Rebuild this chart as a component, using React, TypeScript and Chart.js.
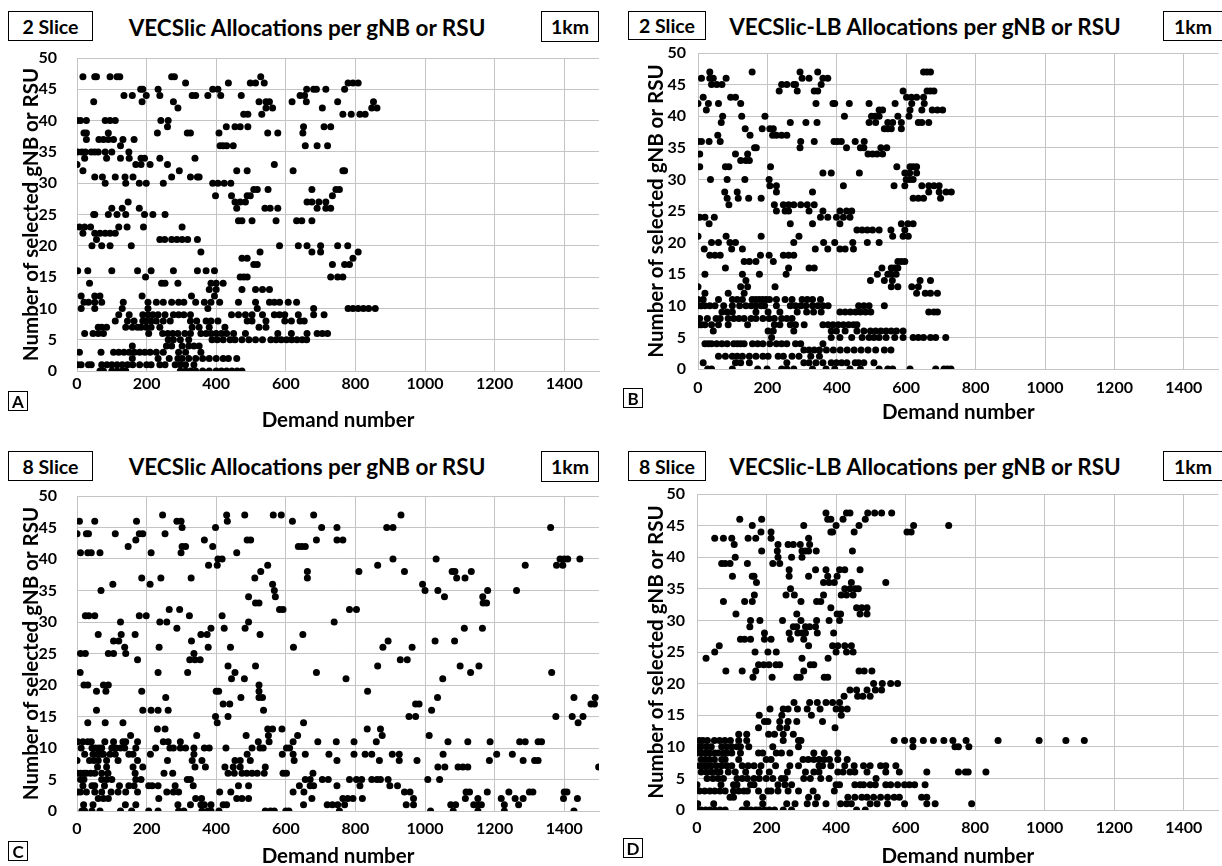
import React, { useEffect, useRef } from 'react';
import { Chart, registerables } from 'chart.js';

Chart.register(...registerables);

type Row = [number, number[]];

const xTickValues = [0, 200, 400, 600, 800, 1000, 1200, 1400];
const yTickValues = [0, 5, 10, 15, 20, 25, 30, 35, 40, 45, 50];
const xTitle = 'Demand number';
const yTitle = 'Number of selected gNB or RSU';

// Panel A: 2 Slice, VECSlic
const rowsA: Row[] = [
  [47, [17, 51, 56, 95, 115, 123, 272, 280, 528]],
  [46, [312, 435, 498, 513, 538, 779, 793, 808]],
  [45, [183, 189, 233, 390, 405, 660, 680, 688, 715, 769]],
  [44, [135, 159, 199, 238, 331, 341, 376, 413, 472, 641, 654]],
  [43, [48, 187, 277, 523, 543, 553, 618, 659, 749, 852]],
  [42, [290, 543, 562, 705, 847, 862]],
  [41, [479, 491, 531, 764, 788, 813, 828]],
  [40, [0, 10, 27, 81, 95, 110, 241, 262]],
  [39, [260, 429, 454, 469, 491, 651, 710, 729]],
  [38, [20, 27, 90, 231, 317, 326, 408, 548, 577, 649]],
  [37, [27, 63, 76, 90, 105, 132, 164]],
  [36, [125, 411, 420, 430, 449, 656, 690, 720]],
  [35, [2, 14, 24, 41, 51, 61, 81, 100, 149]],
  [34, [22, 85, 125, 150, 184, 194, 238, 339]],
  [33, [0, 169, 184, 210, 260, 567]],
  [32, [17, 294, 459, 489, 621, 764, 769]],
  [31, [51, 73, 110, 138, 161, 272, 326, 346, 351]],
  [30, [81, 140, 179, 199, 248, 390, 405, 423, 442]],
  [29, [508, 518, 549, 675, 744, 754]],
  [28, [398, 444, 489, 498, 734]],
  [27, [147, 454, 469, 484, 661, 675, 695, 715]],
  [26, [100, 130, 179, 459, 540, 555, 577, 690, 715, 729]],
  [25, [48, 51, 90, 115, 140, 194, 218, 253]],
  [24, [464, 474, 503, 572, 631, 646, 675]],
  [23, [7, 22, 39, 120, 144, 191, 302]],
  [22, [17, 51, 66, 81, 95, 110]],
  [21, [56, 238, 252, 272, 287, 302, 318, 346]],
  [20, [43, 71, 95, 156, 582, 636, 661, 700, 749, 778]],
  [19, [356, 526, 675, 700, 808]],
  [18, [474, 489, 793]],
  [17, [508, 518, 734, 769, 783]],
  [16, [2, 31, 100, 174, 213, 277, 346, 371, 395]],
  [15, [197, 469, 479, 489, 729, 749, 764]],
  [14, [36, 243, 253, 290, 385, 400, 420]],
  [13, [380, 400, 474, 513, 533, 553]],
  [12, [12, 51, 66, 187, 329, 395]],
  [11, [20, 33, 51, 71, 133, 204, 228, 248, 272, 292, 307, 341, 366, 385, 410, 464, 513, 553, 567, 582, 607, 631]],
  [10, [12, 51, 130, 204, 376, 518, 680, 779, 793, 808, 823, 838, 857]],
  [9, [120, 150, 189, 204, 218, 233, 253, 277, 292, 307, 326, 444, 464, 484, 503, 533, 567, 582, 597, 636, 680, 710]],
  [8, [110, 145, 164, 189, 199, 213, 228, 248, 268, 326, 344, 371, 385, 405, 489, 503, 543, 597, 616, 641, 653]],
  [7, [61, 71, 85, 140, 159, 174, 184, 199, 213, 238, 331, 351, 380, 425, 523, 543]],
  [6, [22, 46, 61, 76, 206, 246, 261, 275, 290, 310, 326, 356, 371, 385, 400, 415, 430, 450, 484, 577, 616, 661, 690, 705, 720]],
  [5, [262, 277, 297, 321, 388, 403, 420, 440, 454, 474, 494, 513, 533, 557, 572, 587, 602, 617, 632, 647, 660]],
  [4, [159, 257, 272, 302, 321, 336, 351]],
  [3, [7, 69, 105, 120, 135, 150, 165, 180, 195, 210, 228, 248, 292, 312, 356]],
  [2, [159, 233, 265, 290, 302, 321, 341, 361, 380, 400, 420, 435, 459]],
  [1, [2, 12, 33, 41, 71, 86, 100, 115, 130, 145, 160, 180, 200, 213, 238, 253, 282, 297, 312, 336]],
  [0, [66, 76, 100, 115, 130, 140, 297, 312, 327, 341, 361, 380, 400, 415, 430, 445, 460, 474]],
];

// Panel B: 2 Slice, VECSlic-LB
const rowsB: Row[] = [
  [47, [34, 156, 294, 345, 650, 660, 670]],
  [46, [10, 34, 44, 81, 300, 320, 360, 374]],
  [45, [39, 54, 69, 241, 256, 276, 281, 355]],
  [44, [234, 286, 335, 345, 591, 660, 670, 680]],
  [43, [15, 94, 108, 601, 615, 630, 650]],
  [42, [0, 30, 59, 123, 340, 389, 394, 436, 493, 568, 616, 652]],
  [41, [24, 522, 532, 611, 645, 675, 690, 705]],
  [40, [71, 126, 193, 422, 500, 510, 522, 576, 608]],
  [39, [67, 266, 311, 343, 493, 512, 547, 561, 586, 635, 645, 665]],
  [38, [136, 185, 207, 217, 537, 547, 557, 586]],
  [37, [57, 150, 215, 226, 241, 256]],
  [36, [0, 10, 32, 64, 296, 335, 392, 402, 413, 453, 479]],
  [35, [163, 168, 294, 428, 468, 478, 527, 544]],
  [34, [5, 108, 143, 490, 503, 516, 532]],
  [33, [123, 138, 148]],
  [32, [5, 79, 89, 209, 573, 611, 620, 630]],
  [31, [360, 384, 465, 596, 610, 630]],
  [30, [36, 84, 135, 205, 600, 610, 620]],
  [29, [207, 226, 419, 565, 596, 645, 665, 680, 695]],
  [28, [77, 113, 226, 330, 665, 695, 715, 730]],
  [27, [84, 116, 146, 182, 620, 635, 650, 699]],
  [26, [89, 220, 246, 261, 276, 296, 315, 335]],
  [25, [226, 251, 261, 320, 360, 409, 428, 443]],
  [24, [5, 20, 47, 353, 374, 399, 419, 438]],
  [23, [32, 266, 330, 409, 586, 605, 620]],
  [22, [458, 473, 488, 503, 522, 556, 596]],
  [21, [0, 81, 182, 291, 561, 591, 606]],
  [20, [39, 59, 92, 108, 276, 362, 394, 446, 488, 522]],
  [19, [18, 97, 128, 338, 374, 409, 424, 448]],
  [18, [34, 49, 64, 180, 205, 246, 261, 276]],
  [17, [133, 148, 167, 217, 576, 586, 596]],
  [16, [79, 261, 320, 335, 530, 557, 566, 576]],
  [15, [20, 128, 177, 254, 517, 547, 557, 571]],
  [14, [138, 497, 537, 560, 640, 670]],
  [13, [0, 123, 143, 222, 557, 576, 616, 635]],
  [12, [20, 87, 133, 630, 655, 670, 690]],
  [11, [0, 15, 59, 99, 113, 128, 156, 166, 176, 186, 196, 206, 226, 251, 271, 300, 315, 330, 353]],
  [10, [0, 10, 20, 34, 49, 74, 99, 120, 138, 153, 167, 182, 192, 226, 266, 281, 296, 311, 330, 345, 360, 375, 463, 478, 493, 537]],
  [9, [69, 84, 99, 167, 202, 236, 286, 313, 333, 355, 409, 424, 439, 454, 468, 483, 498, 665, 680, 690]],
  [8, [5, 27, 52, 64, 87, 103, 118, 133, 153, 167, 187, 205, 220, 241, 256, 271]],
  [7, [0, 10, 20, 39, 59, 87, 143, 220, 236, 266, 281, 306, 360, 375, 389, 404, 419, 434, 448, 458]],
  [6, [44, 202, 217, 276, 384, 399, 424, 458, 478, 497, 512, 527, 542, 557, 572, 591]],
  [5, [212, 384, 409, 443, 473, 493, 507, 522, 542, 567, 591, 620, 635, 650, 670, 685, 714]],
  [4, [20, 30, 39, 54, 69, 84, 103, 113, 123, 133, 157, 172, 187, 207, 226, 241, 256, 281, 296, 360]],
  [3, [305, 320, 335, 350, 370, 390, 410, 430, 450, 470, 490, 512, 537, 556]],
  [2, [59, 79, 99, 113, 128, 148, 167, 187, 202, 231, 246, 271, 291, 325, 350]],
  [1, [15, 108, 123, 148, 256, 305, 320, 340, 360, 384, 399, 414, 429, 453, 463, 478, 507]],
  [0, [28, 39, 99, 172, 199, 241, 256, 276, 330, 369, 394, 438, 468, 522, 547, 561, 611, 685, 709, 719, 729]],
];

// Panel C: 8 Slice, VECSlic
const rowsC: Row[] = [
  [47, [246, 430, 482, 564, 587, 680, 931]],
  [46, [7, 51, 171, 287, 299, 432, 619]],
  [45, [302, 398, 703, 747, 890, 908, 1361]],
  [44, [0, 27, 33, 110, 179, 189, 253]],
  [43, [169, 366, 489, 499, 688, 747, 764]],
  [42, [147, 302, 312, 390, 636, 646, 656]],
  [41, [10, 31, 41, 66, 213, 299, 459]],
  [40, [405, 417, 908, 1032, 1388, 1400, 1410, 1445]],
  [39, [378, 403, 548, 864, 1288, 1378, 1396]],
  [38, [528, 662, 810, 941, 1078, 1086, 1133]],
  [37, [186, 241, 328, 511, 662, 1091, 1115]],
  [36, [103, 210, 562, 993]],
  [35, [69, 567, 1000, 1037, 1180, 1263]],
  [34, [493, 570, 1056, 1166]],
  [33, [513, 523, 1167, 1177]],
  [32, [265, 295, 582, 592, 783, 803]],
  [31, [24, 34, 51, 179, 199, 323, 417]],
  [30, [125, 238, 258, 493, 739]],
  [29, [287, 385, 423, 483, 1113, 1165]],
  [28, [61, 127, 167, 356, 374, 526, 649]],
  [27, [105, 120, 329, 894, 1029, 1085]],
  [26, [137, 236, 377, 441, 622, 879, 963]],
  [25, [10, 24, 90, 105, 140, 336]],
  [24, [174, 324, 339, 354, 929, 949]],
  [23, [434, 513, 864, 1101, 1155]],
  [22, [9, 233, 318, 454, 688, 1131, 1364]],
  [21, [444, 481, 773, 1051]],
  [20, [20, 31, 76, 90, 523]],
  [19, [56, 83, 186, 400, 407, 523, 835]],
  [18, [255, 471, 523, 533, 1036, 1428, 1489]],
  [17, [420, 439, 973, 983, 1477, 1487]],
  [16, [56, 189, 213, 233, 262, 536, 1019]],
  [15, [398, 434, 954, 973, 1376, 1423, 1454]],
  [14, [31, 81, 132, 403, 651, 1440]],
  [13, [231, 253, 548, 562, 589, 834, 872]],
  [12, [154, 344, 486, 550, 634, 877, 1012]],
  [11, [2, 17, 31, 41, 80, 105, 132, 140, 174, 248, 262, 297, 521, 552, 621, 692, 745, 796, 860, 1066, 1123, 1187, 1272, 1288, 1325, 1335]],
  [10, [12, 43, 53, 63, 71, 100, 112, 125, 137, 169, 226, 267, 277, 297, 312, 336, 366, 380, 428, 503, 526, 535, 602, 611]],
  [9, [22, 46, 59, 69, 76, 95, 110, 149, 161, 211, 336, 489, 590, 621, 656, 724, 796, 828, 847, 906, 926, 1052, 1206, 1251]],
  [8, [0, 36, 49, 61, 85, 118, 174, 260, 331, 359, 454, 469, 498, 624, 747, 869, 926, 977, 1185, 1282, 1315, 1325]],
  [7, [59, 85, 161, 189, 339, 369, 425, 449, 469, 541, 1037, 1057, 1095, 1109, 1123, 1499]],
  [6, [0, 10, 20, 27, 39, 51, 71, 89, 167, 250, 275, 434, 452, 474, 488, 503, 518, 538, 592, 602, 678]],
  [5, [10, 20, 71, 85, 100, 169, 184, 317, 326, 656, 670, 705, 722, 783, 803, 818, 847, 862, 872, 894, 1008, 1042]],
  [4, [17, 43, 51, 79, 122, 149, 164, 206, 216, 233, 282, 334, 464, 493, 639, 670, 680, 747, 813, 899, 921]],
  [3, [2, 10, 27, 51, 71, 98, 118, 140, 174, 258, 277, 292, 410, 442, 621, 652, 941, 957, 1118, 1128, 1179, 1241, 1300, 1310, 1400, 1408]],
  [2, [61, 76, 90, 235, 341, 358, 459, 474, 493, 675, 764, 778, 793, 820, 967, 1116, 1152, 1219, 1259, 1282, 1398, 1438]],
  [1, [19, 46, 139, 169, 290, 326, 356, 366, 385, 420, 430, 651, 719, 734, 749, 769, 946, 967, 1074, 1088, 1140, 1152, 1162, 1228, 1269]],
  [0, [14, 22, 43, 66, 125, 157, 206, 233, 292, 307, 359, 376, 385, 408, 541, 556, 567, 600, 609, 754, 1016, 1081, 1152, 1228, 1428]],
];

// Panel D: 8 Slice, VECSlic-LB
const rowsD: Row[] = [
  [47, [371, 430, 440, 491, 511, 531, 560]],
  [46, [123, 186, 376, 385, 420, 484]],
  [45, [159, 307, 400, 466, 623, 724]],
  [44, [184, 213, 385, 390, 452, 604, 616]],
  [43, [51, 76, 100, 147, 169, 213, 321]],
  [42, [107, 233, 262, 277, 297, 324]],
  [41, [186, 231, 302, 312, 321, 343, 447]],
  [40, [110, 233, 272, 302]],
  [39, [71, 81, 95, 145, 218, 238]],
  [38, [265, 341, 371, 410, 425, 469]],
  [37, [102, 159, 164, 265, 321, 376, 403]],
  [36, [171, 364, 380, 395, 444, 543]],
  [35, [269, 425, 440, 455, 464]],
  [34, [165, 256, 280, 364, 415, 430, 449]],
  [33, [76, 137, 159, 299, 344, 356]],
  [32, [385, 459, 474, 489]],
  [31, [112, 287, 403, 413, 469, 489]],
  [30, [154, 181, 246, 299, 344, 380, 410]],
  [29, [152, 277, 287, 312, 324, 341]],
  [28, [194, 265, 290, 302, 312, 346, 393]],
  [27, [125, 137, 154, 194, 213, 269, 307]],
  [26, [64, 321, 390, 405, 425, 444]],
  [25, [51, 167, 204, 228, 400, 430, 449]],
  [24, [26, 302, 377]],
  [23, [177, 192, 207, 227, 238, 326, 336]],
  [22, [83, 130, 169, 307, 466, 481, 503]],
  [21, [161, 216, 287, 297, 366, 376]],
  [20, [508, 533, 557, 577]],
  [19, [440, 459, 489, 513, 531]],
  [18, [423, 462, 477, 498]],
  [17, [279, 324, 346, 371, 390, 410]],
  [16, [210, 248, 262, 289, 317, 354, 400, 415, 432]],
  [15, [179, 244, 329, 415]],
  [14, [194, 204, 238, 262, 287, 361]],
  [13, [177, 238, 258, 397]],
  [12, [120, 143, 206, 223, 248, 277]],
  [11, [7, 17, 30, 50, 65, 80, 96, 120, 143, 248, 292, 299, 567, 597, 621, 651, 680, 710, 736, 774, 866, 984, 1061, 1114]],
  [10, [0, 12, 27, 41, 71, 86, 100, 115, 125, 149, 218, 292, 621, 742, 752, 782]],
  [9, [0, 12, 25, 36, 51, 61, 76, 86, 100, 125, 177, 189, 228, 243, 267, 336, 366, 405]],
  [8, [12, 24, 36, 50, 71, 81, 120, 199, 213, 305, 320, 336, 351, 366, 381, 405, 432]],
  [7, [7, 19, 30, 41, 56, 71, 86, 100, 130, 147, 164, 184, 226, 267, 292, 351, 361, 385, 425, 452, 479, 498, 528, 543, 572]],
  [6, [12, 27, 41, 56, 66, 90, 110, 140, 179, 208, 260, 312, 336, 351, 405, 420, 440, 454, 489, 543, 582, 661, 752, 772, 780, 831]],
  [5, [29, 46, 61, 76, 115, 130, 145, 164, 179, 199, 218, 243, 253, 307, 326, 356, 380, 515]],
  [4, [0, 69, 105, 115, 154, 164, 233, 253, 272, 400, 410, 454, 469, 479, 498, 513, 543, 557, 577, 597, 611, 626, 656]],
  [3, [7, 22, 37, 51, 66, 81, 105, 120, 135, 145, 177, 204, 213, 233, 262, 292, 334, 395]],
  [2, [95, 105, 189, 321, 346, 434, 454, 474, 489, 508, 528, 548, 567, 582, 646, 661]],
  [1, [2, 48, 143, 189, 258, 282, 317, 341, 371, 413, 430, 444, 498, 518, 548, 597, 661, 685, 790]],
  [0, [0, 12, 25, 37, 51, 66, 81, 130, 142, 155, 169, 179, 194, 208, 223, 248, 272, 459, 484]],
];

const FONT = "Lato, 'Liberation Sans', Arial, sans-serif";
const GRID = '#c4c4c4';

type Rect = { x: number; y: number; w: number; h: number };
type Plot = { l: number; r: number; t: number; b: number };
type PanelSpec = {
  rows: Row[];
  canvas: Rect;
  plot: Plot;
  xTickPad: number;
  yTickPad: number;
  xTitlePad: number;
  yTitlePad: number;
};

const toPoints = (rows: Row[]) => rows.flatMap(([y, xs]) => xs.map((x) => ({ x, y })));

function ScatterPanel({ spec }: { spec: PanelSpec }) {
  const ref = useRef<HTMLCanvasElement>(null);
  useEffect(() => {
    const c = spec.canvas;
    const p = spec.plot;
    const chart = new Chart(ref.current as HTMLCanvasElement, {
      type: 'scatter',
      data: {
        datasets: [
          {
            data: toPoints(spec.rows),
            pointRadius: 3.5,
            pointHoverRadius: 3.5,
            pointBackgroundColor: '#000',
            pointBorderWidth: 0,
          },
        ],
      },
      options: {
        responsive: false,
        maintainAspectRatio: false,
        animation: false,
        events: [],
        layout: { padding: { top: p.t - c.y, right: c.x + c.w - p.r, left: 0, bottom: 0 } },
        plugins: { legend: { display: false }, tooltip: { enabled: false } },
        scales: {
          x: {
            type: 'linear',
            min: 0,
            max: 1500,
            afterBuildTicks: (s: any) => {
              s.ticks = xTickValues.map((v) => ({ value: v }));
            },
            afterFit: (s: any) => {
              s.height = c.y + c.h - p.b;
              s.paddingLeft = 0;
              s.paddingRight = 0;
            },
            ticks: {
              color: '#000',
              font: { family: FONT, size: 16, weight: 'bold' },
              padding: spec.xTickPad,
              maxRotation: 0,
              autoSkip: false,
              callback: (v: any) => String(v),
            },
            grid: { color: GRID, lineWidth: 1, drawTicks: false },
            border: { color: GRID, width: 1 },
            title: {
              display: true,
              text: xTitle,
              color: '#000',
              font: { family: FONT, size: 20.5, weight: 'bold' },
              padding: { top: 0, bottom: spec.xTitlePad },
            },
          },
          y: {
            type: 'linear',
            min: 0,
            max: 50,
            afterBuildTicks: (s: any) => {
              s.ticks = yTickValues.map((v) => ({ value: v }));
            },
            afterFit: (s: any) => {
              s.width = p.l - c.x;
              s.paddingTop = 0;
              s.paddingBottom = 0;
            },
            ticks: {
              color: '#000',
              font: { family: FONT, size: 16, weight: 'bold' },
              padding: spec.yTickPad,
              autoSkip: false,
              callback: (v: any) => String(v),
            },
            grid: { color: GRID, lineWidth: 1, drawTicks: false },
            border: { color: GRID, width: 1 },
            title: {
              display: true,
              text: yTitle,
              color: '#000',
              font: { family: FONT, size: 20.5, weight: 'bold' },
              padding: { top: spec.yTitlePad, bottom: 0 },
            },
          },
        },
      } as any,
    });
    return () => chart.destroy();
  }, [spec]);
  const c = spec.canvas;
  return (
    <canvas
      ref={ref}
      width={c.w}
      height={c.h}
      style={{ position: 'absolute', left: c.x, top: c.y, width: c.w, height: c.h }}
    />
  );
}

function Box({ x, y, w, h, text, size }: { x: number; y: number; w: number; h: number; text: string; size: number }) {
  return (
    <div
      style={{
        position: 'absolute',
        left: x,
        top: y,
        width: w,
        height: h,
        boxSizing: 'border-box',
        border: '1.5px solid #000',
        background: '#fff',
        display: 'flex',
        alignItems: 'center',
        justifyContent: 'center',
        font: `bold ${size}px ${FONT}`,
        color: '#000',
        whiteSpace: 'nowrap',
      }}
    >
      {text}
    </div>
  );
}

function Title({ cx, cy, text }: { cx: number; cy: number; text: string }) {
  return (
    <div
      style={{
        position: 'absolute',
        left: cx,
        top: cy,
        transform: 'translate(-50%, -50%)',
        font: `bold 22.5px ${FONT}`,
        color: '#000',
        whiteSpace: 'nowrap',
      }}
    >
      {text}
    </div>
  );
}

const specA: PanelSpec = {
  rows: rowsA,
  canvas: { x: 0, y: 48, w: 610, h: 400 },
  plot: { l: 77, r: 599, t: 58, b: 371 },
  xTickPad: 3,
  yTickPad: 20,
  xTitlePad: 15,
  yTitlePad: 19,
};
const specB: PanelSpec = {
  rows: rowsB,
  canvas: { x: 615, y: 43, w: 607, h: 405 },
  plot: { l: 698, r: 1222, t: 53, b: 369 },
  xTickPad: 9,
  yTickPad: 12,
  xTitlePad: 23,
  yTitlePad: 29,
};
const specC: PanelSpec = {
  rows: rowsC,
  canvas: { x: 0, y: 487, w: 610, h: 385 },
  plot: { l: 77, r: 599, t: 496, b: 811 },
  xTickPad: 8,
  yTickPad: 20,
  xTitlePad: 3,
  yTitlePad: 19,
};
const specD: PanelSpec = {
  rows: rowsD,
  canvas: { x: 615, y: 485, w: 607, h: 387 },
  plot: { l: 697, r: 1222, t: 494, b: 810 },
  xTickPad: 8,
  yTickPad: 12,
  xTitlePad: 3,
  yTitlePad: 29,
};

export default function App() {
  return (
    <div
      style={{
        position: 'absolute',
        left: 0,
        top: 0,
        width: 1222,
        height: 866,
        overflow: 'hidden',
        background: '#fff',
        fontFamily: FONT,
      }}
    >
      <ScatterPanel spec={specA} />
      <ScatterPanel spec={specB} />
      <ScatterPanel spec={specC} />
      <ScatterPanel spec={specD} />

      <Box x={8} y={11} w={85} h={30} text="2 Slice" size={19.5} />
      <Title cx={307} cy={27} text="VECSlic Allocations per gNB or RSU" />
      <Box x={541} y={11} w={58} h={31} text="1km" size={19.5} />
      <Box x={8} y={391} w={20} h={20} text="A" size={17} />

      <Box x={628} y={11} w={78} h={29} text="2 Slice" size={19.5} />
      <Title cx={925} cy={26} text="VECSlic-LB Allocations per gNB or RSU" />
      <Box x={1163} y={11} w={60} h={30} text="1km" size={19.5} />
      <Box x={623} y={388} w={20} h={20} text="B" size={17} />

      <Box x={8} y={451} w={85} h={30} text="8 Slice" size={19.5} />
      <Title cx={307} cy={466} text="VECSlic Allocations per gNB or RSU" />
      <Box x={541} y={451} w={58} h={31} text="1km" size={19.5} />
      <Box x={8} y={841} w={20} h={20} text="C" size={17} />

      <Box x={628} y={451} w={78} h={30} text="8 Slice" size={19.5} />
      <Title cx={925} cy={466} text="VECSlic-LB Allocations per gNB or RSU" />
      <Box x={1163} y={451} w={60} h={30} text="1km" size={19.5} />
      <Box x={623} y={838} w={20} h={20} text="D" size={17} />
    </div>
  );
}
